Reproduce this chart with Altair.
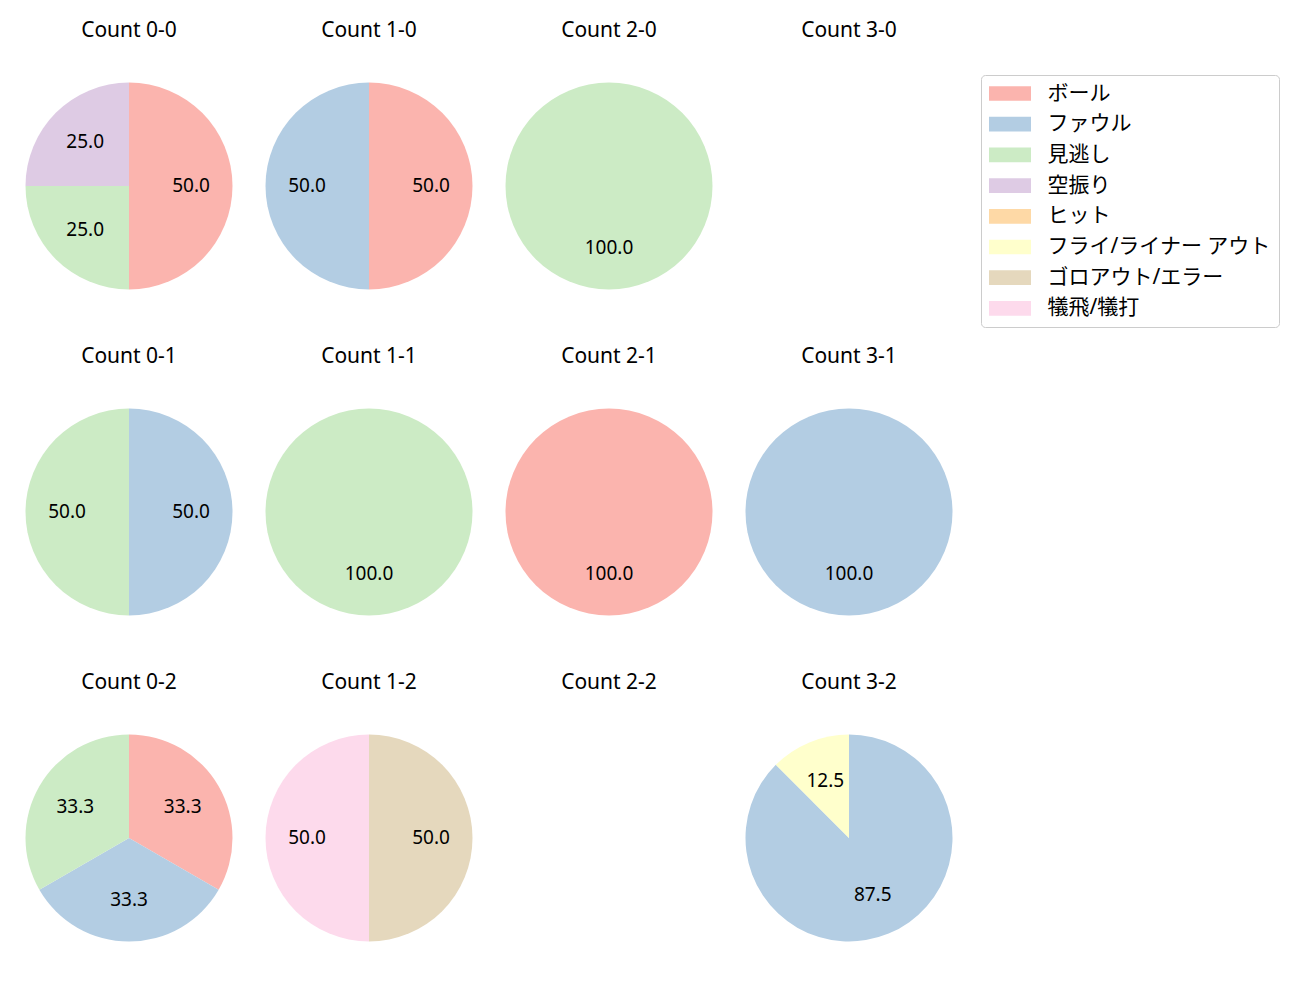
import altair as alt
import pandas as pd

categories = ["ボール", "ファウル", "見逃し", "空振り", "ヒット",
              "フライ/ライナー アウト", "ゴロアウト/エラー", "犠飛/犠打"]
colors = ["#fbb4ae", "#b3cde3", "#ccebc5", "#decbe4", "#fed9a6",
          "#ffffcc", "#e5d8bd", "#fddaec"]

panel_order = ["0-0", "1-0", "2-0", "3-0",
               "0-1", "1-1", "2-1", "3-1",
               "0-2", "1-2", "2-2", "3-2"]

# counts per situation: (count, category, n)
count_keys = ["0-0", "0-0", "0-0",
              "1-0", "1-0",
              "2-0",
              "0-1", "0-1",
              "1-1",
              "2-1",
              "3-1",
              "0-2", "0-2", "0-2",
              "1-2", "1-2",
              "3-2", "3-2"]
count_cats = ["ボール", "見逃し", "空振り",
              "ボール", "ファウル",
              "見逃し",
              "ファウル", "見逃し",
              "見逃し",
              "ボール",
              "ファウル",
              "ボール", "ファウル", "見逃し",
              "ゴロアウト/エラー", "犠飛/犠打",
              "ファウル", "フライ/ライナー アウト"]
count_vals = [2, 1, 1,
              1, 1,
              1,
              1, 1,
              1,
              1,
              1,
              1, 1, 1,
              1, 1,
              7, 1]

df = pd.DataFrame({"count": count_keys, "cat": count_cats, "n": count_vals})
df["ord"] = df["cat"].map({c: i for i, c in enumerate(categories)})
df["pct"] = df["n"] / df.groupby("count")["n"].transform("sum") * 100

FONT = "Noto Sans, Noto Sans CJK JP"
color = alt.Color("cat:N", scale=alt.Scale(domain=categories, range=colors),
                  sort=categories,
                  legend=alt.Legend(title=None, orient="none", legendX=972, legendY=29,
                                    labelFont=FONT, labelFontSize=21, labelLimit=400,
                                    symbolType="M-2,-0.7H2V0.7H-2Z",
                                    symbolSize=441, symbolStrokeWidth=0,
                                    symbolOffset=10.5,
                                    rowPadding=8.7, padding=8,
                                    strokeColor="#cccccc", cornerRadius=4,
                                    fillColor="white", labelOffset=27))


def panel(key):
    base = alt.Chart(df).transform_filter(alt.datum["count"] == key).encode(
        theta=alt.Theta("pct:Q", stack=True),
        order=alt.Order("ord:Q"),
    )
    arc = base.mark_arc(radius=103.5).encode(color=color)
    txt = base.mark_text(radius=62, font=FONT, fontSize=19, color="black").encode(
        text=alt.Text("pct:Q", format=".1f"))
    return alt.layer(arc, txt).properties(
        width=240, height=280,
        title=alt.TitleParams("Count " + key, font=FONT, fontSize=21,
                              fontWeight="normal", offset=5))


rows = []
for r in range(3):
    rows.append(alt.hconcat(*[panel(k) for k in panel_order[r * 4:(r + 1) * 4]], spacing=0))

chart = alt.vconcat(*rows, spacing=20).properties(
    padding={"left": 9, "top": 20, "right": 10, "bottom": 10}
).configure_view(stroke=None).configure_title(color="black")

chart.save("out.html", embed_options={"renderer": "svg", "actions": False})
